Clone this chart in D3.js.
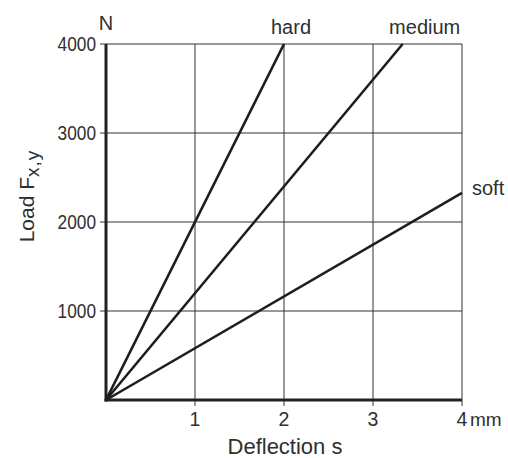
<!DOCTYPE html>
<html><head><meta charset="utf-8">
<script src="https://cdn.jsdelivr.net/npm/d3@7"></script>
<style>body{margin:0;background:#fff;} text{font-family:"Liberation Sans",Arial,sans-serif;fill:#2f2f2f;}</style>
</head><body>
<svg id="c" width="508" height="458"></svg>
<script>
const xTicks = [1, 2, 3, 4];
const yTicks = [1000, 2000, 3000, 4000];
const seriesNames = ["hard", "medium", "soft"];
const seriesStiffness = [2000, 1200, 582]; // N per mm
const xDomain = [0, 4];
const yDomain = [0, 4000];

const svg = d3.select("#c");
const m = {l:106, r:46, t:44, b:58};
const W = 508, H = 458;
const x = d3.scaleLinear().domain(xDomain).range([m.l, W - m.r]);
const y = d3.scaleLinear().domain(yDomain).range([H - m.b, m.t]);

// grid
const g = svg.append("g");
g.selectAll(".vx").data(xTicks).enter().append("line")
  .attr("x1", d => x(d)).attr("x2", d => x(d)).attr("y1", y(4000)).attr("y2", y(0) + 6)
  .attr("stroke", "#333").attr("stroke-width", 1);
g.selectAll(".hy").data(yTicks).enter().append("line")
  .attr("x1", x(0) - 6).attr("x2", x(4)).attr("y1", d => y(d)).attr("y2", d => y(d))
  .attr("stroke", "#333").attr("stroke-width", 1);

// axes thick
svg.append("line").attr("x1", x(0)).attr("x2", x(0)).attr("y1", y(4000)).attr("y2", y(0) + 1.5)
  .attr("stroke", "#222").attr("stroke-width", 3);
svg.append("line").attr("x1", x(0) - 1.5).attr("x2", x(4)).attr("y1", y(0)).attr("y2", y(0))
  .attr("stroke", "#222").attr("stroke-width", 3);

// data lines
const lineGen = d3.line().x(d => x(d[0])).y(d => y(d[1]));
seriesStiffness.forEach((k, i) => {
  const xEnd = Math.min(4, 4000 / k);
  svg.append("path").datum([[0, 0], [xEnd, k * xEnd]])
    .attr("d", lineGen).attr("fill", "none").attr("stroke", "#1e1e1e").attr("stroke-width", 2.6);
});

// tick labels (narrow digits)
const digitW = 9.6;
svg.selectAll(".yl").data(yTicks).enter().append("text")
  .attr("x", x(0) - 10 - String(yTicks[0]).length * digitW).attr("y", d => y(d) + 7)
  .attr("font-size", 19.5).attr("textLength", d => String(d).length * digitW)
  .attr("lengthAdjust", "spacingAndGlyphs").text(d => d);
svg.selectAll(".xl").data(xTicks).enter().append("text")
  .attr("x", d => x(d)).attr("y", y(0) + 26).attr("text-anchor", "middle")
  .attr("font-size", 19.5).text(d => d);
svg.append("text").attr("x", x(4) + 8).attr("y", y(0) + 26).attr("font-size", 19).text("mm");
svg.append("text").attr("x", x(0)).attr("y", 30).attr("text-anchor", "middle")
  .attr("font-size", 20).text("N");

// series labels
svg.append("text").attr("x", x(4000 / seriesStiffness[0]) + 7).attr("y", 34)
  .attr("text-anchor", "middle").attr("font-size", 20).text(seriesNames[0]);
svg.append("text").attr("x", x(4000 / seriesStiffness[1]) + 22).attr("y", 34)
  .attr("text-anchor", "middle").attr("font-size", 20).text(seriesNames[1]);
svg.append("text").attr("x", x(4) + 10).attr("y", y(4 * seriesStiffness[2]) + 2)
  .attr("text-anchor", "start").attr("font-size", 20).text(seriesNames[2]);

// axis titles
svg.append("text").attr("x", x(2) + 1).attr("y", 454).attr("text-anchor", "middle")
  .attr("font-size", 22).text("Deflection s");
const yt = svg.append("text").attr("transform", `translate(34,196) rotate(-90)`)
  .attr("text-anchor", "middle").attr("font-size", 21);
yt.append("tspan").text("Load F");
yt.append("tspan").attr("font-size", 19).attr("dy", 5).attr("letter-spacing", 1).text("x,y");
</script>
</body></html>
